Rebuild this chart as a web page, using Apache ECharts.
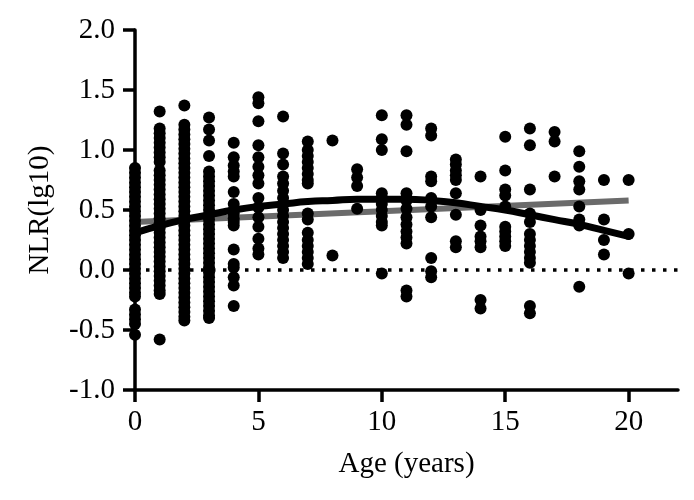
<!DOCTYPE html>
<html>
<head>
<meta charset="utf-8">
<script src="https://cdn.jsdelivr.net/npm/echarts@6/dist/echarts.min.js"></script>
<style>html,body{margin:0;padding:0;background:#fff;}#c{width:694px;height:500px;}</style>
</head>
<body>
<div id="c"></div>
<script>
// NLR(lg10) observations per age (years)
const age0 = [0.85,0.81,0.77,0.73,0.69,0.65,0.61,0.57,0.53,0.49,0.45,0.41,0.37,0.33,0.29,0.25,0.21,0.17,0.13,0.09,0.05,0.01,-0.03,-0.07,-0.11,-0.15,-0.19,-0.22,-0.33,-0.37,-0.41,-0.45,-0.54];
const age1 = [1.32,1.18,1.14,1.10,1.06,1.02,0.98,0.94,0.90,0.83,0.79,0.75,0.71,0.67,0.63,0.59,0.55,0.51,0.47,0.43,0.39,0.35,0.31,0.27,0.23,0.19,0.15,0.11,0.07,0.03,-0.01,-0.05,-0.09,-0.13,-0.17,-0.20,-0.58];
const age2 = [1.37,1.21,1.17,1.13,1.09,1.05,1.01,0.97,0.93,0.89,0.85,0.81,0.77,0.73,0.69,0.65,0.61,0.57,0.53,0.49,0.45,0.41,0.37,0.33,0.29,0.25,0.21,0.17,0.13,0.09,0.05,0.01,-0.03,-0.07,-0.11,-0.15,-0.19,-0.23,-0.27,-0.31,-0.35,-0.39,-0.42];
const age3 = [1.27,1.17,1.08,0.95,0.82,0.78,0.74,0.70,0.66,0.62,0.58,0.54,0.50,0.46,0.42,0.38,0.34,0.30,0.26,0.22,0.18,0.14,0.10,0.06,0.02,-0.02,-0.06,-0.10,-0.14,-0.18,-0.22,-0.26,-0.30,-0.34,-0.38,-0.40];
const age4 = [1.06,0.94,0.87,0.82,0.78,0.65,0.55,0.50,0.47,0.43,0.40,0.37,0.17,0.05,0.02,-0.06,-0.13,-0.30];
const age5 = [1.44,1.39,1.24,1.04,0.94,0.86,0.79,0.72,0.60,0.52,0.44,0.36,0.26,0.18,0.13];
const age6 = [1.28,0.97,0.88,0.78,0.72,0.66,0.60,0.55,0.50,0.45,0.40,0.35,0.30,0.25,0.20,0.15,0.10];
const age7 = [1.07,1.00,0.95,0.90,0.85,0.80,0.75,0.72,0.47,0.42,0.31,0.25,0.20,0.15,0.10,0.05];
const age8 = [1.08,0.12];
const age9 = [0.84,0.77,0.70,0.51];
const age10 = [1.29,1.09,1.00,0.64,0.60,0.55,0.50,0.45,0.40,0.37,-0.03];
const age11 = [1.29,1.21,0.99,0.64,0.58,0.51,0.44,0.38,0.32,0.27,0.22,-0.17,-0.22];
const age12 = [1.18,1.12,0.78,0.74,0.60,0.53,0.44,0.10,-0.01,-0.06];
const age13 = [0.92,0.88,0.83,0.79,0.75,0.64,0.46,0.24,0.19];
const age14 = [0.78,0.50,0.37,0.28,0.24,0.19,-0.25,-0.32];
const age15 = [1.11,0.83,0.67,0.62,0.53,0.36,0.32,0.28,0.24,0.20];
const age16 = [1.18,1.04,0.67,0.47,0.40,0.30,0.25,0.20,0.15,0.10,0.06,-0.30,-0.36];
const age17 = [1.15,1.07,0.78];
const age18 = [0.99,0.86,0.74,0.67,0.53,0.42,0.37,-0.14];
const age19 = [0.75,0.42,0.25,0.13];
const age20 = [0.75,0.30,-0.03];
const columns = [age0,age1,age2,age3,age4,age5,age6,age7,age8,age9,age10,age11,age12,age13,age14,age15,age16,age17,age18,age19,age20];

// fitted lines
const linearX = [0, 20];
const linearY = [0.40, 0.58];
const curveX = [0,1,2,3,4,5,6,7,8,9,10,11,12,13,14,15,16,17,18,19,20];
const curveY = [0.31,0.37,0.42,0.46,0.50,0.53,0.55,0.57,0.58,0.59,0.59,0.59,0.58,0.56,0.53,0.50,0.46,0.42,0.38,0.33,0.28];
const refLineX = [0, 22];
const refLineY = [0, 0];

const xTicks = [0, 5, 10, 15, 20];

const points = [];
columns.forEach((vals, age) => vals.forEach(v => points.push([age, v])));

const font = 'Liberation Serif';
const chart = echarts.init(document.getElementById('c'));
chart.setOption({
  animation: false,
  backgroundColor: '#fff',
  grid: { left: 135, right: 16, top: 30, bottom: 110, containLabel: false },
  xAxis: {
    type: 'value', min: 0, max: 22,
    name: 'Age (years)', nameLocation: 'middle', nameGap: 60,
    nameTextStyle: { fontFamily: font, fontSize: 29, color: '#000' },
    axisLine: { show: true, onZero: false, lineStyle: { color: '#000', width: 3.5 } },
    axisTick: { show: true, length: 12, lineStyle: { color: '#000', width: 3.5 }, customValues: xTicks },
    axisLabel: { fontFamily: font, fontSize: 29, color: '#000', margin: 18, customValues: xTicks },
    splitLine: { show: false }
  },
  yAxis: {
    type: 'value', min: -1, max: 2, interval: 0.5,
    name: 'NLR(lg10)', nameLocation: 'middle', nameGap: 80,
    nameTextStyle: { fontFamily: font, fontSize: 29, color: '#000' },
    axisLine: { show: true, onZero: false, lineStyle: { color: '#000', width: 3.5 } },
    axisTick: { show: true, length: 12, lineStyle: { color: '#000', width: 3.5 } },
    axisLabel: { fontFamily: font, fontSize: 29, color: '#000', margin: 20, formatter: v => v.toFixed(1) },
    splitLine: { show: false }
  },
  series: [
    {
      type: 'line', data: refLineX.map((x, i) => [x, refLineY[i]]), symbol: 'none', z: 1,
      lineStyle: { color: '#000', width: 3.5, type: [3.5, 7.5] }, silent: true
    },
    {
      type: 'line', data: linearX.map((x, i) => [x, linearY[i]]), symbol: 'none', z: 2,
      lineStyle: { color: '#6b6b6b', width: 6 }, silent: true
    },
    {
      type: 'scatter', data: points, symbol: 'circle', symbolSize: 12, z: 3, clip: false,
      itemStyle: { color: '#000', opacity: 1 }
    },
    {
      type: 'line', data: curveX.map((x, i) => [x, curveY[i]]), symbol: 'none', smooth: true, z: 4,
      lineStyle: { color: '#000', width: 7, cap: 'round' }, silent: true
    }
  ]
});
</script>
</body>
</html>
